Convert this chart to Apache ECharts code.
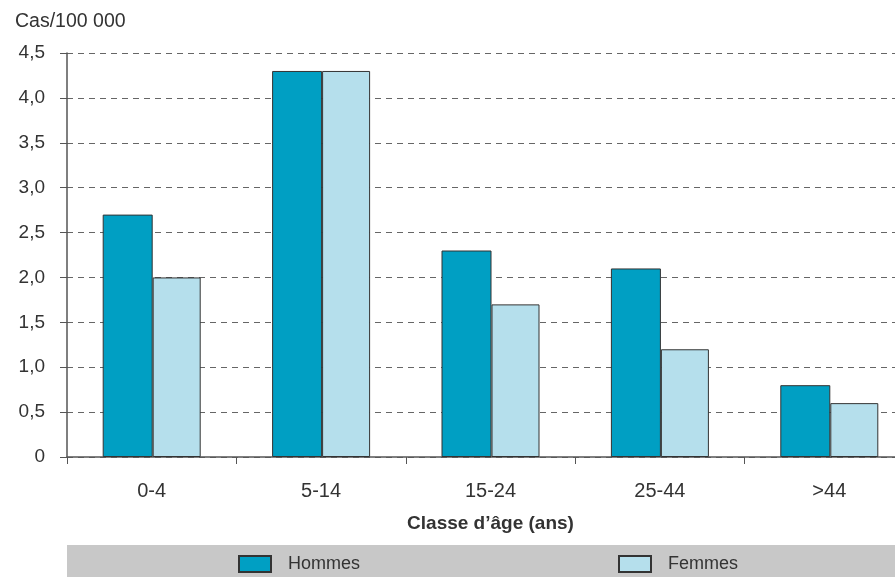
<!DOCTYPE html>
<html>
<head>
<meta charset="utf-8">
<script src="https://cdn.jsdelivr.net/npm/echarts@6/dist/echarts.min.js"></script>
<style>html,body{margin:0;padding:0;background:#fff;overflow:hidden;width:895px;height:577px;}#c{width:914px;height:577px;}</style>
</head>
<body>
<div id="c"></div>
<script>
const categories = ['0-4', '5-14', '15-24', '25-44', '>44'];
const hommes = [2.7, 4.3, 2.3, 2.1, 0.8];
const femmes = [2.0, 4.3, 1.7, 1.2, 0.6];
const yTicks = [0, 0.5, 1.0, 1.5, 2.0, 2.5, 3.0, 3.5, 4.0, 4.5];

const FONT = "'Liberation Sans Narrow', 'Liberation Sans', Arial, sans-serif";
const TXT = '#333333';
const chart = echarts.init(document.getElementById('c'));
chart.setOption({
  animation: false,
  textStyle: { fontFamily: FONT },
  title: { text: 'Cas/100 000', left: 10, top: 7, textStyle: { fontFamily: FONT, fontSize: 19.5, fontWeight: 'normal', color: TXT } },
  graphic: [{ type: 'rect', left: 67, top: 545, shape: { width: 847, height: 32 }, style: { fill: '#c8c8c8' }, z: 0 }],
  legend: [
    { data: ['Hommes'], icon: 'rect', left: 238, top: 555, padding: 0, itemWidth: 32, itemHeight: 16, itemGap: 10, textStyle: { fontFamily: FONT, fontSize: 18, color: TXT, padding: [0, 0, 0, 12] } },
    { data: ['Femmes'], icon: 'rect', left: 618, top: 555, padding: 0, itemWidth: 32, itemHeight: 16, itemGap: 10, textStyle: { fontFamily: FONT, fontSize: 18, color: TXT, padding: [0, 0, 0, 12] } }
  ],
  grid: { left: 67, top: 53, height: 404, right: 0, containLabel: false },
  xAxis: {
    type: 'category', data: categories,
    axisLine: { lineStyle: { color: '#555', width: 1.5 } },
    axisTick: { show: true, length: 7, lineStyle: { color: '#555' } },
    axisLabel: { fontSize: 20, color: TXT, margin: 24, fontFamily: FONT },
    name: "Classe d\u2019âge (ans)", nameLocation: 'middle', nameGap: 57,
    nameTextStyle: { fontSize: 19, fontWeight: 'bold', color: TXT, fontFamily: FONT }
  },
  yAxis: {
    type: 'value', min: 0, max: 4.5, interval: 0.5,
    axisLine: { show: true, lineStyle: { color: '#555', width: 1.5 } },
    axisTick: { show: true, length: 7, lineStyle: { color: '#555' } },
    axisLabel: { fontSize: 19, color: TXT, margin: 22, fontFamily: FONT,
      formatter: v => { const t = yTicks.find(x => Math.abs(x - v) < 1e-9); const val = t === undefined ? v : t; return val === 0 ? '0' : val.toFixed(1).replace('.', ','); } },
    splitLine: { show: true, lineStyle: { color: '#666', type: [6, 5], width: 1.2 } }
  },
  series: [
    { name: 'Hommes', type: 'bar', data: hommes, barWidth: 50, barGap: '0%',
      itemStyle: { color: '#009fc3', borderColor: '#333', borderWidth: 1 }, z: 3 },
    { name: 'Femmes', type: 'bar', data: femmes, barWidth: 48, barGap: '0%',
      itemStyle: { color: '#b5dfec', borderColor: '#333', borderWidth: 1 }, z: 3 }
  ]
});
</script>
</body>
</html>
